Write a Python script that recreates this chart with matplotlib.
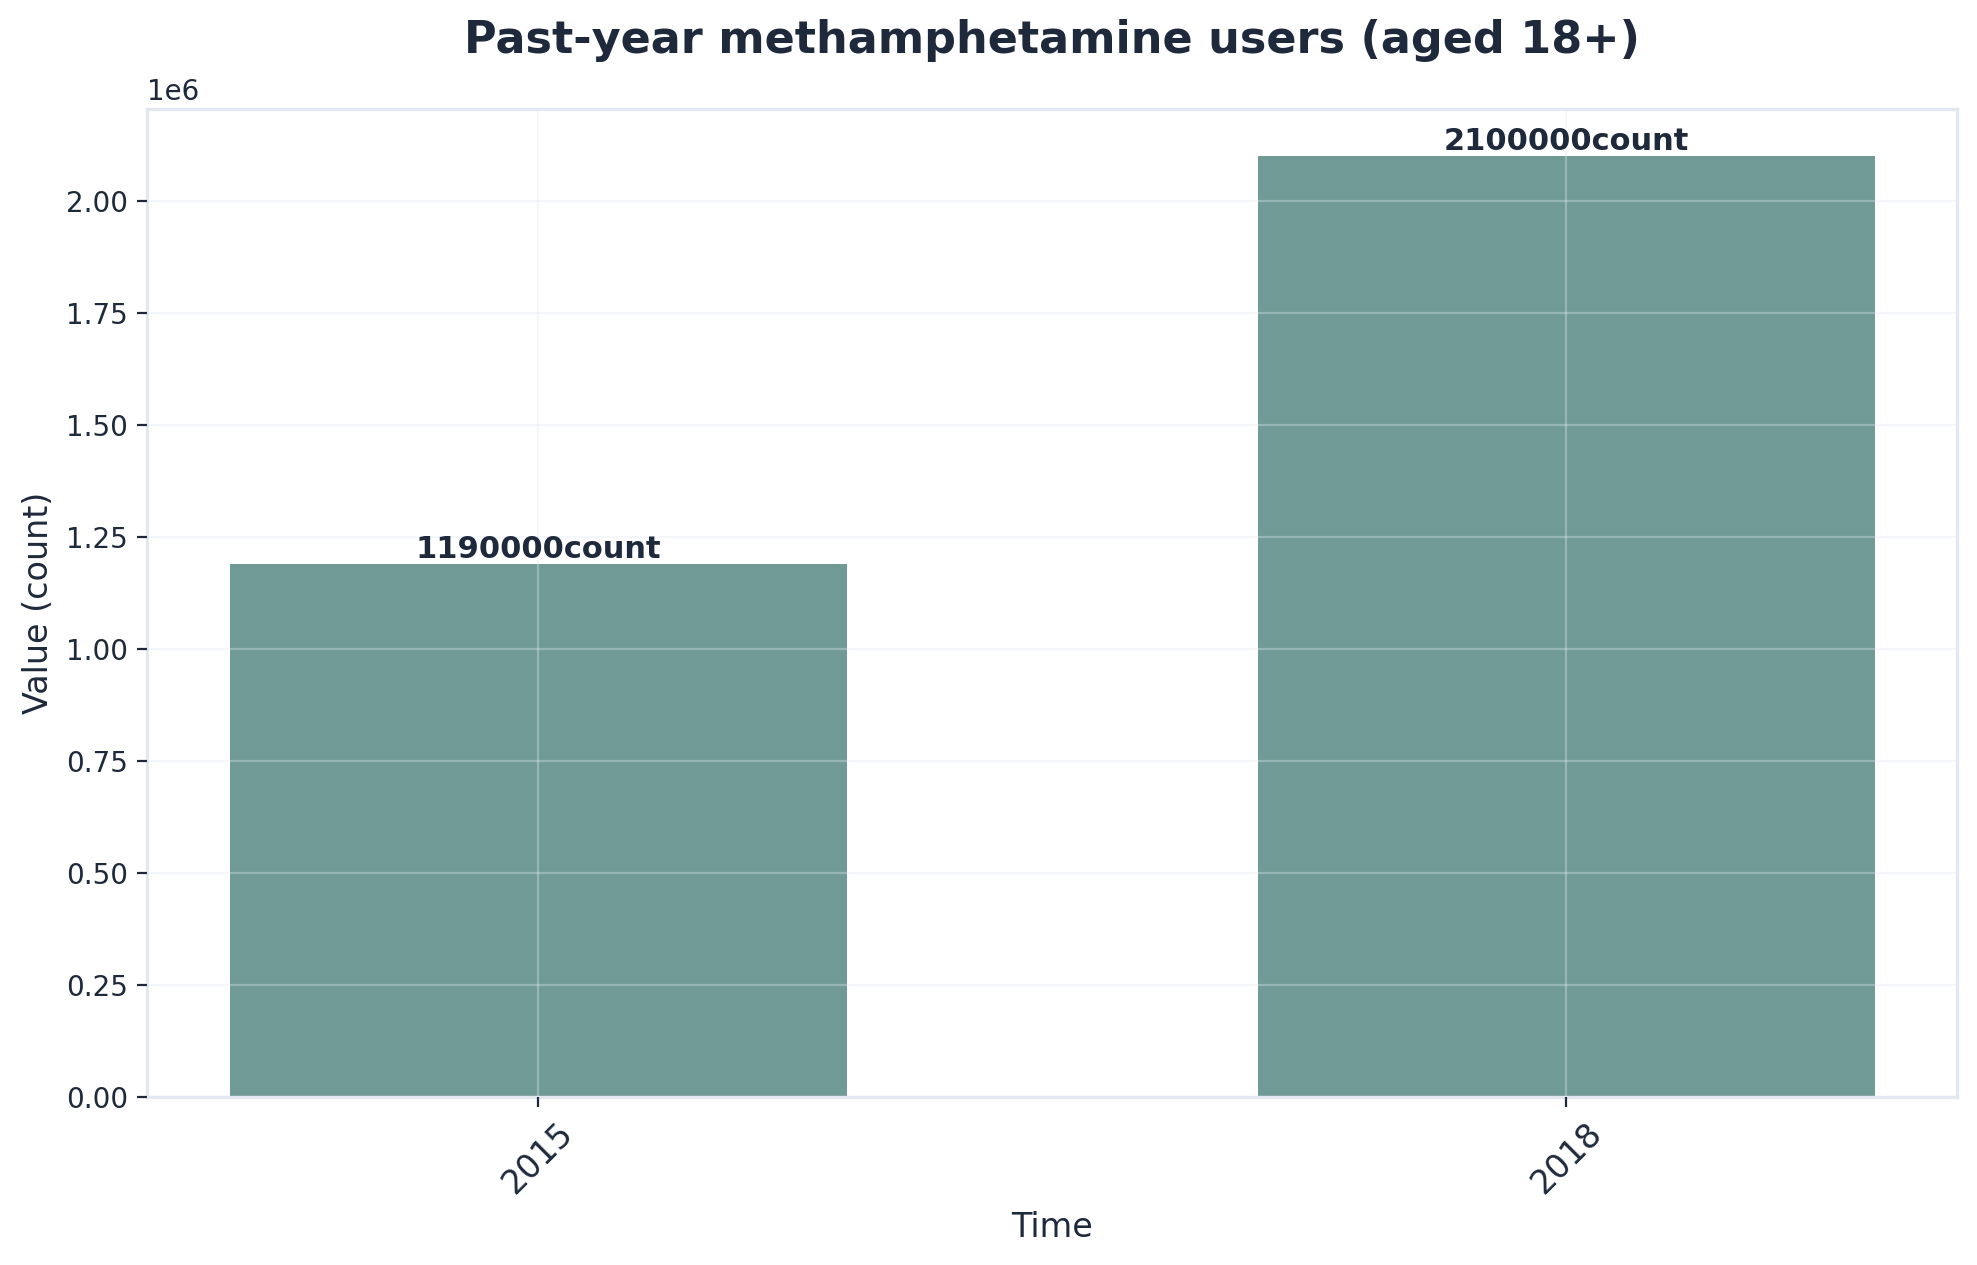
import matplotlib
matplotlib.use('Agg')
import matplotlib.pyplot as plt

# data
years = ['2015', '2018']
users = [1190000, 2100000]
unit = 'count'

text_color = '#1e293b'
spine_color = '#e2e8f0'
bar_color = '#709a95'

fig, ax = plt.subplots(figsize=(9.885, 6.325), dpi=200)
fig.subplots_adjust(left=0.0745, right=0.990, top=0.914, bottom=0.133)

bars = ax.bar(years, users, width=0.6, color=bar_color, zorder=2)

for rect, v in zip(bars, users):
    ax.text(rect.get_x() + rect.get_width() / 2, rect.get_height(),
            f'{v}{unit}', ha='center', va='bottom',
            fontsize=11, fontweight='bold', color=text_color)

ax.set_title('Past-year methamphetamine users (aged 18+)', fontsize=16,
             fontweight='bold', color=text_color, pad=20)
ax.set_xlabel('Time', fontsize=12, color=text_color)
ax.set_ylabel('Value (count)', fontsize=12, color=text_color)

ax.grid(True, color='#e2e8f0', alpha=0.35, linewidth=0.8, zorder=3)
ax.set_axisbelow(False)

for s in ax.spines.values():
    s.set_color(spine_color)
    s.set_linewidth(1.2)

ax.tick_params(axis='y', labelsize=10, colors=text_color)
ax.tick_params(axis='x', labelsize=12, colors=text_color, labelrotation=45)
ax.yaxis.get_offset_text().set_color(text_color)
ax.yaxis.get_offset_text().set_fontsize(10)

fig.savefig('out.png', dpi=200)
